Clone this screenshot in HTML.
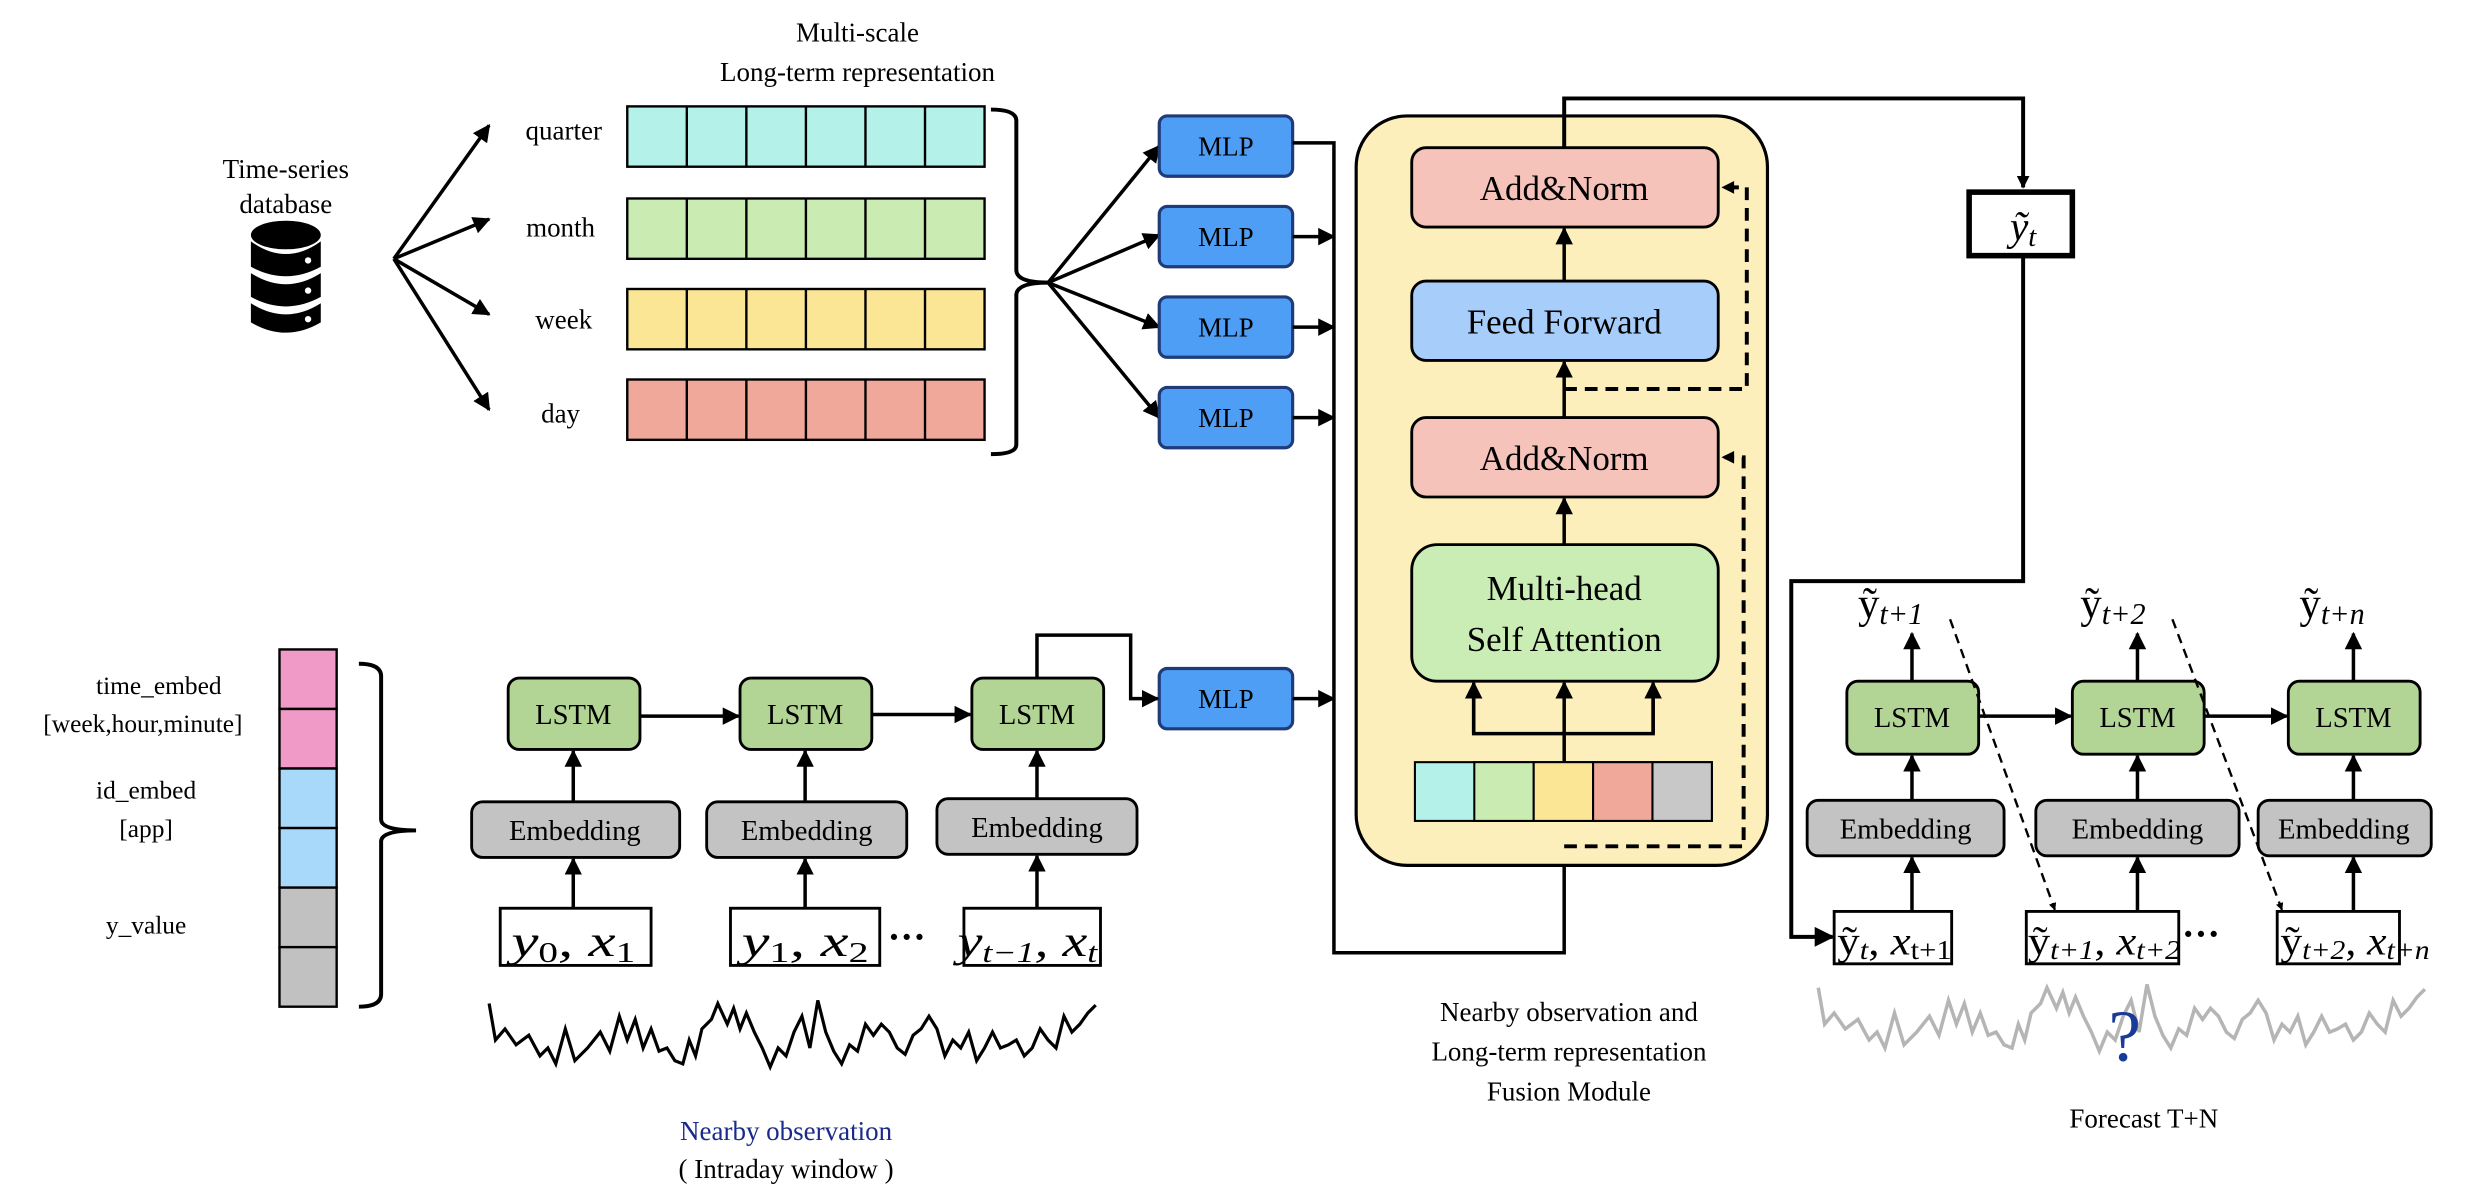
<!DOCTYPE html>
<html><head><meta charset="utf-8"><style>
html,body{margin:0;padding:0;background:#fff}
svg{display:block}
text{font-family:"Liberation Serif",serif;fill:#000}
.m{font-family:"Liberation Serif",serif}
</style></head><body>
<svg width="2490" height="1202" viewBox="0 0 1568 757" preserveAspectRatio="none" xmlns="http://www.w3.org/2000/svg">
<defs>
<marker id="a" viewBox="0 0 10 10" refX="9" refY="5" markerWidth="5" markerHeight="5" orient="auto-start-reverse"><path d="M0,0 L10,5 L0,10 z" fill="#000"/></marker>
<marker id="b" viewBox="0 0 10 10" refX="9" refY="5" markerWidth="3.2" markerHeight="3.2" orient="auto"><path d="M0,0 L10,5 L0,10 z" fill="#000"/></marker>
</defs>

<text x="540" y="26" font-size="17" text-anchor="middle">Multi-scale</text>
<text x="540" y="51" font-size="17" text-anchor="middle">Long-term representation</text>
<text x="180" y="112" font-size="17" text-anchor="middle">Time-series</text>
<text x="180" y="134" font-size="17" text-anchor="middle">database</text>

<g fill="#000">
<ellipse cx="180" cy="148" rx="22" ry="9"/>
<path d="M158,152 Q180,168 202,152 L202,168 Q180,180 158,168 z"/>
<path d="M158,172 Q180,186 202,172 L202,187 Q180,199 158,187 z"/>
<path d="M158,191 Q180,205 202,191 L202,203 Q180,216 158,203 z"/>
</g>
<circle cx="194" cy="164" r="2" fill="#fff"/><circle cx="194" cy="183" r="2" fill="#fff"/><circle cx="194" cy="201" r="2" fill="#fff"/>

<g stroke="#000" stroke-width="2.2" fill="none" marker-end="url(#a)">
<line x1="248" y1="163" x2="308" y2="79"/>
<line x1="248" y1="163" x2="308" y2="138"/>
<line x1="248" y1="163" x2="308" y2="198"/>
<line x1="248" y1="163" x2="308" y2="258"/>
</g>
<text x="355" y="88" font-size="17" text-anchor="middle">quarter</text>
<text x="353" y="149" font-size="17" text-anchor="middle">month</text>
<text x="355" y="207" font-size="17" text-anchor="middle">week</text>
<text x="353" y="266" font-size="17" text-anchor="middle">day</text>

<g stroke="#000" stroke-width="1.5">
<rect x="395" y="67" width="225" height="38" fill="#b3f1e9"/>
<rect x="395" y="125" width="225" height="38" fill="#caecb3"/>
<rect x="395" y="182" width="225" height="38" fill="#fbe695"/>
<rect x="395" y="239" width="225" height="38" fill="#f0a89b"/>
<path d="M432.5,67V105M470,67V105M507.5,67V105M545,67V105M582.5,67V105
M432.5,125V163M470,125V163M507.5,125V163M545,125V163M582.5,125V163
M432.5,182V220M470,182V220M507.5,182V220M545,182V220M582.5,182V220
M432.5,239V277M470,239V277M507.5,239V277M545,239V277M582.5,239V277"/>
</g>
<path d="M624,69 Q640,69 640,76 L640,170 Q640,178 660,178 Q640,178 640,186 L640,280 Q640,286 624,286" stroke="#000" stroke-width="2.5" fill="none"/>
<g stroke="#000" stroke-width="2.2" fill="none" marker-end="url(#a)">
<line x1="660" y1="178" x2="730" y2="92"/>
<line x1="660" y1="178" x2="730" y2="148"/>
<line x1="660" y1="178" x2="730" y2="206"/>
<line x1="660" y1="178" x2="730" y2="263"/>
</g>

<g stroke="#1f3b78" stroke-width="2" fill="#4f9ef5">
<rect x="730" y="73" width="84" height="38" rx="5"/>
<rect x="730" y="130" width="84" height="38" rx="5"/>
<rect x="730" y="187" width="84" height="38" rx="5"/>
<rect x="730" y="244" width="84" height="38" rx="5"/>
<rect x="730" y="421" width="84" height="38" rx="5"/>
</g>
<g font-size="17" text-anchor="middle">
<text x="772" y="98">MLP</text><text x="772" y="155">MLP</text><text x="772" y="212">MLP</text><text x="772" y="269">MLP</text><text x="772" y="446">MLP</text>
</g>
<g stroke="#000" stroke-width="2.2" fill="none">
<polyline points="814,90 840,90 840,600 985,600 985,519" marker-end="url(#a)"/>
<line x1="814" y1="149" x2="840" y2="149" marker-end="url(#a)"/>
<line x1="814" y1="206" x2="840" y2="206" marker-end="url(#a)"/>
<line x1="814" y1="263" x2="840" y2="263" marker-end="url(#a)"/>
<line x1="814" y1="440" x2="840" y2="440" marker-end="url(#a)"/>
</g>

<rect x="854" y="73" width="259" height="472" rx="32" fill="#fcefbb" stroke="#000" stroke-width="2"/>
<g stroke="#000" stroke-width="1.8">
<rect x="889" y="93" width="193" height="50" rx="9" fill="#f6c3bb"/>
<rect x="889" y="177" width="193" height="50" rx="9" fill="#a7cefa"/>
<rect x="889" y="263" width="193" height="50" rx="9" fill="#f6c3bb"/>
<rect x="889" y="343" width="193" height="86" rx="16" fill="#caecb5"/>
</g>
<g font-size="22" text-anchor="middle">
<text x="985" y="126">Add&amp;Norm</text>
<text x="985" y="210">Feed Forward</text>
<text x="985" y="296">Add&amp;Norm</text>
<text x="985" y="378">Multi-head</text>
<text x="985" y="410">Self Attention</text>
</g>
<g stroke="#000" stroke-width="1.3">
<rect x="891" y="480" width="187" height="37" fill="#b3f1e9"/>
<rect x="928.4" y="480" width="37.4" height="37" fill="#caecb3"/>
<rect x="965.8" y="480" width="37.4" height="37" fill="#fbe695"/>
<rect x="1003.2" y="480" width="37.4" height="37" fill="#f0a89b"/>
<rect x="1040.6" y="480" width="37.4" height="37" fill="#c8c8c8"/>
</g>
<g stroke="#000" stroke-width="2.2" fill="none">
<polyline points="985,480 985,462"/>
<polyline points="928,431 928,462 1041,462 1041,431"/>
<line x1="928" y1="462" x2="928" y2="430" marker-end="url(#a)"/>
<line x1="1041" y1="462" x2="1041" y2="430" marker-end="url(#a)"/>
<line x1="985" y1="462" x2="985" y2="430" marker-end="url(#a)"/>
<line x1="985" y1="343" x2="985" y2="314" marker-end="url(#a)"/>
<line x1="985" y1="263" x2="985" y2="228" marker-end="url(#a)"/>
<line x1="985" y1="177" x2="985" y2="144" marker-end="url(#a)"/>
</g>
<g stroke="#000" stroke-width="2.5" fill="none" stroke-dasharray="8,5">
<polyline points="985,533 1098,533 1098,288 1086,288"/>
<polyline points="985,245 1100,245 1100,118 1086,118"/>
</g>
<path d="M1084,288 l8,-4 v8z M1084,118 l8,-4 v8z" fill="#000"/>

<polyline points="985,93 985,62 1274,62 1274,118" stroke="#000" stroke-width="2.5" fill="none" marker-end="url(#b)"/>
<rect x="1240" y="121" width="65" height="40" fill="#fff" stroke="#000" stroke-width="3.5"/>
<text x="1274" y="151" font-size="26" font-style="italic" text-anchor="middle">ỹ<tspan font-size="18" dy="4">t</tspan></text>
<polyline points="1274,161 1274,366 1128,366 1128,590 1154,590" stroke="#000" stroke-width="2.5" fill="none" marker-end="url(#a)"/>

<g stroke="#000" stroke-width="1.8">
<rect x="1163" y="429" width="83" height="46" rx="7" fill="#b2d494"/>
<rect x="1305" y="429" width="83" height="46" rx="7" fill="#b2d494"/>
<rect x="1441" y="429" width="83" height="46" rx="7" fill="#b2d494"/>
<rect x="1138" y="504" width="124" height="35" rx="7" fill="#c3c3c3"/>
<rect x="1282" y="504" width="128" height="35" rx="7" fill="#c3c3c3"/>
<rect x="1422" y="504" width="109" height="35" rx="7" fill="#c3c3c3"/>
</g>
<g stroke="#000" stroke-width="1.8" fill="#fff">
<rect x="1155" y="574" width="74" height="33"/>
<rect x="1276" y="574" width="96" height="33"/>
<rect x="1434" y="574" width="77" height="33"/>
</g>
<g font-size="18" text-anchor="middle">
<text x="1204" y="458">LSTM</text><text x="1346" y="458">LSTM</text><text x="1482" y="458">LSTM</text>
<text x="1200" y="528">Embedding</text><text x="1346" y="528">Embedding</text><text x="1476" y="528">Embedding</text>
</g>
<g class="m">
<text x="1157" y="601" font-size="25" textLength="72" lengthAdjust="spacingAndGlyphs">ỹ<tspan font-size="17" dy="3" font-style="italic">t</tspan><tspan dy="-3">, </tspan><tspan font-style="italic">x</tspan><tspan font-size="17" dy="3">t+1</tspan></text>
<text x="1277" y="601" font-size="25" textLength="96" lengthAdjust="spacingAndGlyphs">ỹ<tspan font-size="17" dy="3" font-style="italic">t+1</tspan><tspan dy="-3">, </tspan><tspan font-style="italic">x</tspan><tspan font-size="17" dy="3" font-style="italic">t+2</tspan></text>
<text x="1436" y="601" font-size="25" textLength="94" lengthAdjust="spacingAndGlyphs">ỹ<tspan font-size="17" dy="3" font-style="italic">t+2</tspan><tspan dy="-3">, </tspan><tspan font-style="italic">x</tspan><tspan font-size="17" dy="3" font-style="italic">t+n</tspan></text>
<text x="1170" y="389" font-size="27">ỹ<tspan font-size="19" dy="4" font-style="italic">t+1</tspan></text>
<text x="1310" y="389" font-size="27">ỹ<tspan font-size="19" dy="4" font-style="italic">t+2</tspan></text>
<text x="1448" y="389" font-size="27">ỹ<tspan font-size="19" dy="4" font-style="italic">t+n</tspan></text>
</g>
<text x="1374" y="596" font-size="24" font-weight="bold">···</text>
<g stroke="#000" stroke-width="2.2" fill="none">
<line x1="1204" y1="429" x2="1204" y2="399" marker-end="url(#a)"/>
<line x1="1346" y1="429" x2="1346" y2="399" marker-end="url(#a)"/>
<line x1="1482" y1="429" x2="1482" y2="399" marker-end="url(#a)"/>
<line x1="1204" y1="504" x2="1204" y2="476" marker-end="url(#a)"/>
<line x1="1346" y1="504" x2="1346" y2="476" marker-end="url(#a)"/>
<line x1="1482" y1="504" x2="1482" y2="476" marker-end="url(#a)"/>
<line x1="1204" y1="574" x2="1204" y2="540" marker-end="url(#a)"/>
<line x1="1346" y1="574" x2="1346" y2="540" marker-end="url(#a)"/>
<line x1="1482" y1="574" x2="1482" y2="540" marker-end="url(#a)"/>
<line x1="1246" y1="451" x2="1304" y2="451" marker-end="url(#a)"/>
<line x1="1388" y1="451" x2="1440" y2="451" marker-end="url(#a)"/>
</g>
<g stroke="#000" stroke-width="1.5" fill="none" stroke-dasharray="6,4" marker-end="url(#b)">
<line x1="1228" y1="390" x2="1294" y2="573"/>
<line x1="1368" y1="390" x2="1437" y2="573"/>
</g>

<g stroke="#000" stroke-width="1.5">
<rect x="176" y="409" width="36" height="37.5" fill="#f09ac8"/>
<rect x="176" y="446.5" width="36" height="37.5" fill="#f09ac8"/>
<rect x="176" y="484" width="36" height="37.5" fill="#a9d9fa"/>
<rect x="176" y="521.5" width="36" height="37.5" fill="#a9d9fa"/>
<rect x="176" y="559" width="36" height="37.5" fill="#c1c1c1"/>
<rect x="176" y="596.5" width="36" height="37.5" fill="#c1c1c1"/>
</g>
<g font-size="16" text-anchor="middle">
<text x="100" y="437">time_embed</text>
<text x="90" y="461">[week,hour,minute]</text>
<text x="92" y="503">id_embed</text>
<text x="92" y="527">[app]</text>
<text x="92" y="588">y_value</text>
</g>
<path d="M226,418 Q240,418 240,426 L240,516 Q240,523 262,523 Q240,523 240,530 L240,626 Q240,634 226,634" stroke="#000" stroke-width="2.5" fill="none"/>

<g stroke="#000" stroke-width="1.8">
<rect x="320" y="427" width="83" height="45" rx="7" fill="#b2d494"/>
<rect x="466" y="427" width="83" height="45" rx="7" fill="#b2d494"/>
<rect x="612" y="427" width="83" height="45" rx="7" fill="#b2d494"/>
<rect x="297" y="505" width="131" height="35" rx="7" fill="#c3c3c3"/>
<rect x="445" y="505" width="126" height="35" rx="7" fill="#c3c3c3"/>
<rect x="590" y="503" width="126" height="35" rx="7" fill="#c3c3c3"/>
</g>
<g stroke="#000" stroke-width="1.8" fill="#fff">
<rect x="315" y="572" width="95" height="36"/>
<rect x="460" y="572" width="94" height="36"/>
<rect x="607" y="572" width="86" height="36"/>
</g>
<g font-size="18" text-anchor="middle">
<text x="361" y="456">LSTM</text><text x="507" y="456">LSTM</text><text x="653" y="456">LSTM</text>
<text x="362" y="529">Embedding</text><text x="508" y="529">Embedding</text><text x="653" y="527">Embedding</text>
</g>
<g font-size="28" font-style="italic">
<text x="322" y="602" textLength="78" lengthAdjust="spacingAndGlyphs">y<tspan font-size="18" dy="4" font-style="normal">0</tspan><tspan dy="-4">, x</tspan><tspan font-size="18" dy="4" font-style="normal">1</tspan></text>
<text x="467" y="602" textLength="80" lengthAdjust="spacingAndGlyphs">y<tspan font-size="18" dy="4" font-style="normal">1</tspan><tspan dy="-4">, x</tspan><tspan font-size="18" dy="4" font-style="normal">2</tspan></text>
<text x="603" y="602" textLength="88" lengthAdjust="spacingAndGlyphs">y<tspan font-size="18" dy="4">t−1</tspan><tspan dy="-4">, x</tspan><tspan font-size="18" dy="4">t</tspan></text>
</g>
<text x="559" y="598" font-size="24" font-weight="bold">···</text>
<g stroke="#000" stroke-width="2.2" fill="none">
<line x1="361" y1="505" x2="361" y2="473" marker-end="url(#a)"/>
<line x1="507" y1="505" x2="507" y2="473" marker-end="url(#a)"/>
<line x1="653" y1="503" x2="653" y2="473" marker-end="url(#a)"/>
<line x1="361" y1="572" x2="361" y2="541" marker-end="url(#a)"/>
<line x1="507" y1="572" x2="507" y2="541" marker-end="url(#a)"/>
<line x1="653" y1="572" x2="653" y2="539" marker-end="url(#a)"/>
<line x1="403" y1="451" x2="465" y2="451" marker-end="url(#a)"/>
<line x1="549" y1="450" x2="611" y2="450" marker-end="url(#a)"/>
<polyline points="653,427 653,400 712,400 712,440 729,440" marker-end="url(#a)"/>
</g>

<polyline fill="none" stroke="#000" stroke-width="2" points="308,632 312,655 318,648 325,658 333,652 340,665 345,660 350,670 356,648 362,668 370,660 378,650 384,662 390,640 395,655 400,642 405,660 410,648 415,662 420,660 425,668 430,670 434,655 438,665 442,648 448,642 452,632 458,645 462,635 466,648 470,638 475,650 480,660 485,672 490,660 495,665 500,650 505,640 510,660 515,630 520,650 525,662 530,670 535,658 540,662 545,645 550,652 555,645 560,650 565,660 570,664 575,652 580,648 585,640 590,648 595,665 600,655 605,660 610,650 615,668 620,660 625,650 630,660 635,658 640,655 645,665 650,660 655,648 660,655 665,660 670,640 675,650 680,645 685,638 690,633"/>
<polyline transform="translate(837,-10)" fill="none" stroke="#b5b5b5" stroke-width="2.2" points="308,632 312,655 318,648 325,658 333,652 340,665 345,660 350,670 356,648 362,668 370,660 378,650 384,662 390,640 395,655 400,642 405,660 410,648 415,662 420,660 425,668 430,670 434,655 438,665 442,648 448,642 452,632 458,645 462,635 466,648 470,638 475,650 480,660 485,672 490,660 495,665 500,650 505,640 510,660 515,630 520,650 525,662 530,670 535,658 540,662 545,645 550,652 555,645 560,650 565,660 570,664 575,652 580,648 585,640 590,648 595,665 600,655 605,660 610,650 615,668 620,660 625,650 630,660 635,658 640,655 645,665 650,660 655,648 660,655 665,660 670,640 675,650 680,645 685,638 690,633"/>
<text x="1338" y="668" font-size="46" font-family="Liberation Sans, sans-serif" style="fill:#1a3a9a" text-anchor="middle">?</text>

<text x="495" y="718" font-size="17" text-anchor="middle" style="fill:#1a2a8a">Nearby observation</text>
<text x="495" y="742" font-size="17" text-anchor="middle">( Intraday window )</text>
<text x="988" y="643" font-size="17" text-anchor="middle">Nearby observation and</text>
<text x="988" y="668" font-size="17" text-anchor="middle">Long-term representation</text>
<text x="988" y="693" font-size="17" text-anchor="middle">Fusion Module</text>
<text x="1350" y="710" font-size="17" text-anchor="middle">Forecast  T+N</text>
</svg>
</body></html>
